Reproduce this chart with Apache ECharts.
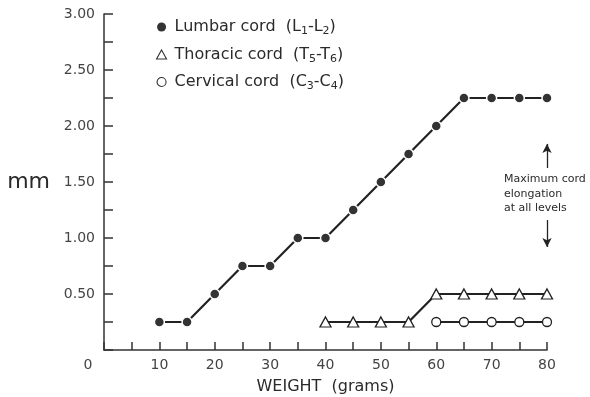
<!DOCTYPE html>
<html><head><meta charset="utf-8">
<script src="https://cdn.jsdelivr.net/npm/echarts@6/dist/echarts.min.js"></script>
<style>html,body{margin:0;padding:0;background:#fff}#c{width:590px;height:397px}</style>
</head><body><div id="c"></div>
<script>
const weights = [10,15,20,25,30,35,40,45,50,55,60,65,70,75,80];
const lumbar  = [0.25,0.25,0.5,0.75,0.75,1.0,1.0,1.25,1.5,1.75,2.0,2.25,2.25,2.25,2.25];
const thoracicW = [40,45,50,55,60,65,70,75,80];
const thoracic  = [0.25,0.25,0.25,0.25,0.5,0.5,0.5,0.5,0.5];
const cervicalW = [60,65,70,75,80];
const cervical  = [0.25,0.25,0.25,0.25,0.25];
const names = ['Lumbar cord (L1-L2)','Thoracic cord (T5-T6)','Cervical cord (C3-C4)'];
const legendRich = {
  [names[0]]:'{t|Lumbar cord  (L}{s|1}{t|-L}{s|2}{t|)}',
  [names[1]]:'{t|Thoracic cord  (T}{s|5}{t|-T}{s|6}{t|)}',
  [names[2]]:'{t|Cervical cord  (C}{s|3}{t|-C}{s|4}{t|)}'
};
const annotation = ['Maximum cord','elongation','at all levels'];

const FONT = 'DejaVu Sans';
const INK = '#2a2a2a';
const pairs = (xs, ys) => xs.map((x,i)=>[x, ys[i]]);

const chart = echarts.init(document.getElementById('c'), null, {renderer:'canvas'});
chart.setOption({
  animation:false,
  textStyle:{fontFamily:FONT, color:INK},
  grid:{left:104, right:43, top:14, bottom:47, containLabel:false, outerBoundsMode:'none'},
  legend:{
    orient:'vertical', left:156, top:19, padding:0, itemGap:9.5, itemWidth:10, itemHeight:9,
    formatter:n => legendRich[n],
    textStyle:{fontFamily:FONT, fontSize:16, color:INK, padding:[0,0,0,3],
      rich:{
        t:{fontFamily:FONT, fontSize:16, color:INK, lineHeight:20, verticalAlign:'middle'},
        s:{fontFamily:FONT, fontSize:11, color:INK, lineHeight:11, verticalAlign:'bottom'}
      }},
    data:[
      {name:names[0], icon:'circle', itemStyle:{color:'#333', borderWidth:0}},
      {name:names[1], icon:'triangle', itemStyle:{color:'#fff', borderColor:'#333', borderWidth:1.1}},
      {name:names[2], icon:'circle', itemStyle:{color:'#fff', borderColor:'#333', borderWidth:1.1}}
    ]
  },
  xAxis:{
    type:'value', min:0, max:80, interval:5,
    name:'WEIGHT  (grams)', nameLocation:'middle', nameGap:29,
    nameTextStyle:{fontFamily:FONT, fontSize:16, color:INK},
    axisLine:{lineStyle:{color:'#333', width:1.5}},
    axisTick:{inside:true, length:8, lineStyle:{color:'#333', width:1.5}},
    splitLine:{show:false},
    axisLabel:{
      margin:8, fontSize:14, color:'#444', fontFamily:FONT,
      formatter:v => v===0 ? '{o|0}' : (v%10===0 ? String(v) : ''),
      rich:{o:{fontSize:14, color:'#444', fontFamily:FONT, padding:[0,32,0,0]}}
    }
  },
  yAxis:{
    type:'value', min:0, max:3, interval:0.25,
    name:'mm', nameLocation:'middle', nameRotate:0, nameGap:54,
    nameTextStyle:{fontFamily:FONT, fontSize:22, color:INK},
    axisLine:{show:true, lineStyle:{color:'#333', width:1.5}},
    axisTick:{show:true, inside:true, length:9, lineStyle:{color:'#333', width:1.5}},
    splitLine:{show:false},
    axisLabel:{
      margin:9, fontSize:14, color:'#444', fontFamily:FONT,
      formatter:v => (v!==0 && Math.abs(v*2-Math.round(v*2))<1e-6) ? v.toFixed(2) : ''
    }
  },
  series:[
    {name:names[0], type:'line', data:pairs(weights,lumbar), symbol:'circle', symbolSize:10,
     itemStyle:{color:'#333', borderColor:'#fff', borderWidth:1.5},
     lineStyle:{color:'#222', width:2.2},
     markLine:{silent:true, symbol:['none','arrow'], symbolSize:[7,9], label:{show:false},
       lineStyle:{color:'#222', width:1.3, type:'solid'},
       data:[[{coord:[80,1.625]},{coord:[80,1.84]}],[{coord:[80,1.16]},{coord:[80,0.92]}]]}},
    {name:names[1], type:'line', data:pairs(thoracicW,thoracic), symbol:'triangle', symbolSize:[11,10],
     itemStyle:{color:'#fff', borderColor:'#222', borderWidth:1.3},
     lineStyle:{color:'#222', width:2.2}},
    {name:names[2], type:'line', data:pairs(cervicalW,cervical), symbol:'circle', symbolSize:9,
     itemStyle:{color:'#fff', borderColor:'#222', borderWidth:1.3},
     lineStyle:{color:'#222', width:2.2}}
  ],
  graphic:[
    {type:'text', left:504, top:172, style:{text:annotation.join('\n'), fontFamily:FONT, fontSize:11, lineHeight:14.5, fill:INK}}
  ]
});
</script></body></html>
